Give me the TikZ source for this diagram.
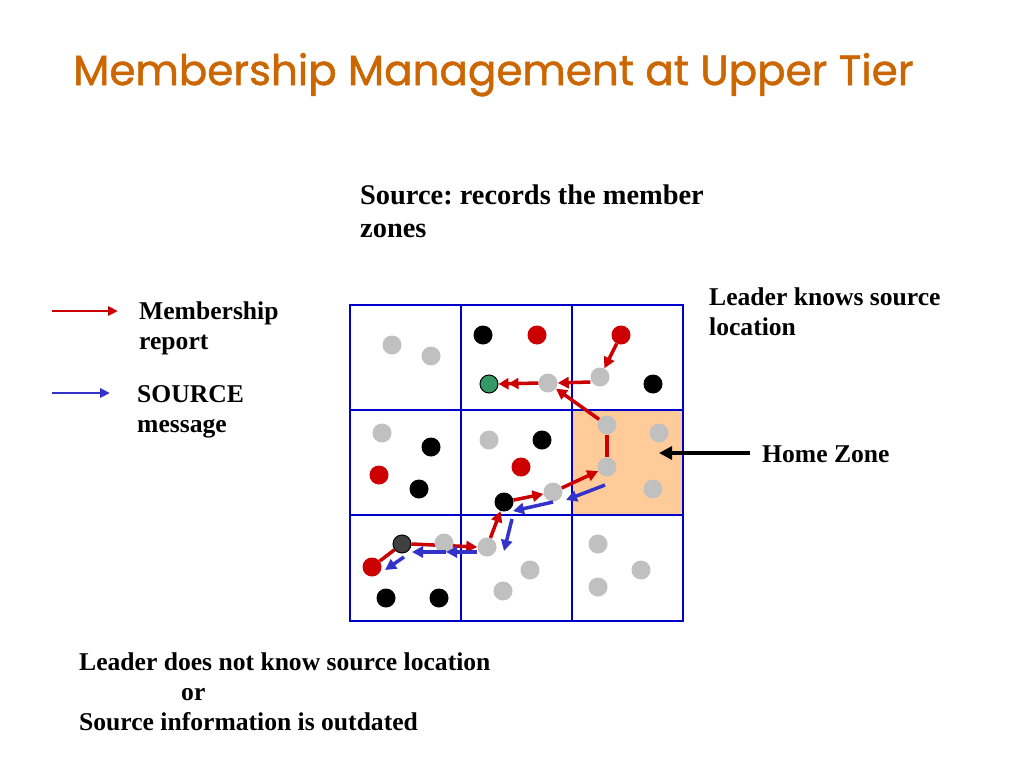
\documentclass[tikz,border=0pt]{standalone}
\usepackage{fontspec}
\setmainfont{Liberation Serif}
\newfontfamily\titlefont{Poppins}[FakeBold=1.2]
\usetikzlibrary{arrows.meta,calc}
\definecolor{ttl}{HTML}{CC6600}
\definecolor{rd}{HTML}{CC0000}
\definecolor{bl}{HTML}{3333CC}
\definecolor{gridblue}{HTML}{0000CC}
\definecolor{gr}{HTML}{C0C0C0}
\definecolor{grn}{HTML}{339966}
\definecolor{dk}{HTML}{404040}
\definecolor{home}{HTML}{FFCC99}
\tikzset{
  dot/.style={circle,inner sep=0pt,minimum size=19pt,draw=none},
  gdot/.style={dot,fill=gr},
  bdot/.style={dot,fill=black},
  rdot/.style={dot,fill=rd},
  redarr/.style={draw=rd,line width=3.5pt,-{Triangle[length=11pt,width=11pt]}},
  redline/.style={draw=rd,line width=3.5pt},
  bluearr/.style={draw=bl,line width=3.5pt,-{Triangle[length=11pt,width=11pt]}},
  cell/.style={draw=gridblue,line width=1.5pt},
  txt/.style={anchor=base west,inner sep=0pt,font=\fontsize{25.6}{30}\selectfont\bfseries},
  bigtxt/.style={anchor=base west,inner sep=0pt,font=\fontsize{28.4}{33}\selectfont\bfseries},
}
\frenchspacing
\begin{document}
\begin{tikzpicture}[x=1pt,y=-1pt]
\useasboundingbox[fill=white] (0,0) rectangle (1024,768);
% title
\node[anchor=base west,inner sep=0pt,text=ttl] (title) at (73,85) {\resizebox{840pt}{!}{\titlefont Membership Management at Upper Tier}};
% texts
\node[bigtxt] (src1) at (360,204) {Source: records the member};
\node[bigtxt] (src2) at (360,237) {zones};
\node[txt] (lk1) at (709,305) {Leader knows source};
\node[txt] (lk2) at (709,335) {location};
\node[txt] (m1) at (139,319) {Membership};
\node[txt] (m2) at (139,349) {report};
\node[txt] (s1) at (137,402) {SOURCE};
\node[txt] (s2) at (137,432) {message};
\node[txt] (hz) at (762,462) {Home Zone};
\node[txt] (ld1) at (79,670) {Leader does not know source location};
\node[txt] (ld2) at (181,700) {or};
\node[txt] (ld3) at (79,730) {Source information is outdated};
% legend arrows
\coordinate (la1) at (52,311); \coordinate (la2) at (118,311);
\coordinate (lb1) at (52,393); \coordinate (lb2) at (110,393);
\draw[draw=rd,line width=2.5pt,-{Triangle[length=10pt,width=9pt]}] (la1) -- (la2);
\draw[draw=bl,line width=2.5pt,-{Triangle[length=10pt,width=9pt]}] (lb1) -- (lb2);
% grid
\fill[home] (572,410) rectangle (683,515);
\foreach \xa/\xb in {350/461,461/572,572/683}
  \foreach \ya/\yb in {305/410,410/515,515/621}
    \draw[cell] (\xa,\ya) rectangle (\xb,\yb);
\draw[draw=gridblue,line width=2.5pt] (572,410) rectangle (683,515);
% home zone arrow
\coordinate (hza) at (750,453); \coordinate (hzb) at (659,453);
\draw[line width=4pt,-{Triangle[length=13pt,width=13pt]}] (hza) -- (hzb);
% dots
\node[gdot] (g1) at (392,345) {};
\node[gdot] (g2) at (431,356) {};
\node[bdot] (k1) at (483,335) {};
\node[rdot] (r1) at (537,335) {};
\node[rdot] (r3) at (621,335) {};
\node[dot,fill=grn,draw=black,line width=1pt,minimum size=18pt] (gn) at (489,384) {};
\node[gdot] (g5) at (548,383) {};
\node[gdot] (g3) at (600,377) {};
\node[bdot] (k3) at (653,384) {};
\node[gdot] (g4a) at (382,433) {};
\node[bdot] (k4a) at (431,447) {};
\node[rdot] (r4) at (379,475) {};
\node[bdot] (k4b) at (419,489) {};
\node[gdot] (g5a) at (489,440) {};
\node[bdot] (k5a) at (542,440) {};
\node[rdot] (r5a) at (521,467) {};
\node[bdot] (b6) at (504,502) {};
\node[gdot] (g6) at (553,492) {};
\node[gdot] (h1) at (607,425) {};
\node[gdot] (h2) at (659,433) {};
\node[gdot] (h3) at (607,467) {};
\node[gdot] (h4) at (653,489) {};
\node[dot,fill=dk,draw=black,line width=1pt,minimum size=18pt] (dk) at (402,544) {};
\node[rdot] (r7) at (372,567) {};
\node[bdot] (k7a) at (386,598) {};
\node[bdot] (k7b) at (439,598) {};
\node[gdot] (g9) at (487,547) {};
\node[gdot] (g10) at (530,570) {};
\node[gdot] (g11) at (503,591) {};
\node[gdot] (g12) at (598,544) {};
\node[gdot] (g13) at (598,587) {};
\node[gdot] (g14) at (641,570) {};
% red line passing behind the grey dot
\draw[redarr] (dk.east) -- (g9.west);
\node[gdot] (g8) at (444,543) {};
% red arrows
\draw[redarr] (r3) -- (g3);
\draw[redarr] ([yshift=-5pt]g3.west) -- (g5.east);
\draw[draw=rd,line width=3.5pt,-{Triangle[length=10pt,width=11pt]Triangle[length=10pt,width=11pt]}] (g5.west) -- (gn.east);
\draw[redarr] (h1) -- (g5);
\draw[redline] (h1) -- (h3);
\draw[redarr] (g6) -- (h3);
\draw[redarr] (b6) -- (g6);
\draw[redarr] (g9) -- (b6);
\draw[redline] (r7) -- (dk);
% blue arrows
\coordinate (bs1) at (605,485); \coordinate (be1) at (566,500);
\coordinate (bs2) at (553,502); \coordinate (be2) at (513,511);
\coordinate (bs3) at (512,519); \coordinate (be3) at (504,551);
\coordinate (bs4) at (477,552); \coordinate (bm4) at (446,552); \coordinate (be4) at (412,552);
\coordinate (bs5) at (404,557); \coordinate (be5) at (385,570);
\draw[bluearr] (bs1) -- (be1);
\draw[bluearr] (bs2) -- (be2);
\draw[bluearr] (bs3) -- (be3);
\draw[bluearr] (bs4) -- (bm4);
\draw[bluearr] (bm4) -- (be4);
\draw[bluearr] (bs5) -- (be5);
\end{tikzpicture}
\end{document}
